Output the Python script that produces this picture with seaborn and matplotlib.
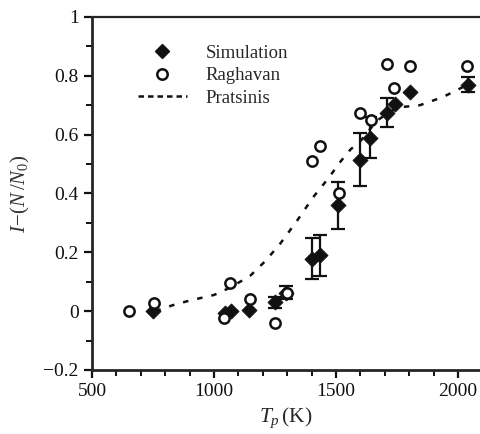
import matplotlib
matplotlib.use("Agg")
import matplotlib.pyplot as plt
from matplotlib.lines import Line2D
from matplotlib.ticker import MultipleLocator, FuncFormatter
import pandas as pd
import seaborn as sns

# Simulation (filled diamonds, with error bars)
sim_x = [750, 1045, 1070, 1145, 1250, 1295, 1400, 1435, 1510, 1600, 1640, 1710, 1740, 1805, 2040]
sim_y = [0.0, -0.005, 0.0, 0.003, 0.03, 0.062, 0.178, 0.19, 0.36, 0.515, 0.59, 0.675, 0.705, 0.745, 0.77]
sim_err = [0, 0, 0, 0, 0.018, 0.022, 0.07, 0.07, 0.08, 0.09, 0.07, 0.05, 0, 0, 0.025]

# Raghavan (open circles)
rag_x = [650, 755, 1040, 1066, 1148, 1250, 1298, 1400, 1434, 1513, 1598, 1642, 1709, 1738, 1803, 2037]
rag_y = [0.0, 0.028, -0.022, 0.095, 0.04, -0.042, 0.062, 0.512, 0.56, 0.40, 0.672, 0.648, 0.84, 0.76, 0.833, 0.832]

# Pratsinis (dashed curve)
prat_x = [760, 830, 900, 1000, 1066, 1148, 1210, 1270, 1340, 1406, 1467, 1520, 1560, 1600, 1668, 1750, 1844, 1939, 2040]
prat_y = [0.0, 0.02, 0.036, 0.055, 0.08, 0.12, 0.17, 0.228, 0.307, 0.387, 0.45, 0.51, 0.55, 0.578, 0.648, 0.692, 0.70, 0.728, 0.77]

sns.set_style("ticks")
plt.rcParams["font.family"] = ["Liberation Serif", "DejaVu Serif"]
plt.rcParams["mathtext.fontset"] = "custom"
plt.rcParams["mathtext.rm"] = "Liberation Serif"
plt.rcParams["mathtext.it"] = "Liberation Serif:italic"
plt.rcParams["axes.unicode_minus"] = True

sim = pd.DataFrame({"x": sim_x, "y": sim_y, "err": sim_err})
rag = pd.DataFrame({"x": rag_x, "y": rag_y})
prat = pd.DataFrame({"x": prat_x, "y": prat_y})

fig = plt.figure(figsize=(4.8, 4.34), dpi=100)
ax = fig.add_axes([0.1917, 0.1475, 0.8083, 0.8135])

sns.lineplot(data=prat, x="x", y="y", ax=ax, color="#111111", sort=False,
             estimator=None, linewidth=1.8, linestyle=(0, (2.2, 3.6)), zorder=2)

eb = sim[sim["err"] > 0]
ax.errorbar(eb["x"], eb["y"], yerr=eb["err"], fmt="none", ecolor="#111111",
            elinewidth=1.6, capsize=5, capthick=1.6, zorder=3)

sns.scatterplot(data=sim, x="x", y="y", ax=ax, marker="D", s=60, color="#111111",
                edgecolor="#111111", linewidth=0.5, zorder=4)
sns.scatterplot(data=rag, x="x", y="y", ax=ax, marker="o", s=55, facecolor="white",
                edgecolor="#111111", linewidth=1.8, zorder=5)

ax.set_xlim(500, 2090)
ax.set_ylim(-0.2, 1.0)
ax.xaxis.set_major_locator(MultipleLocator(500))
ax.xaxis.set_minor_locator(MultipleLocator(100))
ax.yaxis.set_major_locator(MultipleLocator(0.2))
ax.yaxis.set_minor_locator(MultipleLocator(0.1))
ax.yaxis.set_major_formatter(FuncFormatter(lambda v, p: f"{round(v, 1):g}".replace("-", "\u2212")))

for side in ["left", "bottom"]:
    ax.spines[side].set_linewidth(2.0)
ax.spines["top"].set_linewidth(1.6)
ax.spines["right"].set_visible(False)
ax.tick_params(which="major", direction="out", length=6, width=1.6, labelsize=14, colors="#111111")
ax.tick_params(which="minor", direction="out", length=4, width=1.4, colors="#111111")

ax.set_xlabel(r"$T_p\,$(K)", fontsize=15.5, labelpad=4)
ax.set_ylabel(r"$I\!-\!(N\,/N_0)$", fontsize=15, labelpad=8, color="#333333")

handles = [
    Line2D([], [], marker="D", linestyle="none", color="#111111", markersize=7.5),
    Line2D([], [], marker="o", linestyle="none", markerfacecolor="white",
           markeredgecolor="#111111", markeredgewidth=1.8, markersize=7.5),
    Line2D([], [], color="#111111", linewidth=1.8, linestyle=(0, (2.2, 1.6))),
]
ax.legend(handles, ["Simulation", "Raghavan", "Pratsinis"], loc="upper left",
          bbox_to_anchor=(0.075, 0.97), frameon=False, fontsize=13.5,
          handlelength=2.6, handletextpad=1.0, labelspacing=0.3)

fig.savefig("out.png", dpi=100)
